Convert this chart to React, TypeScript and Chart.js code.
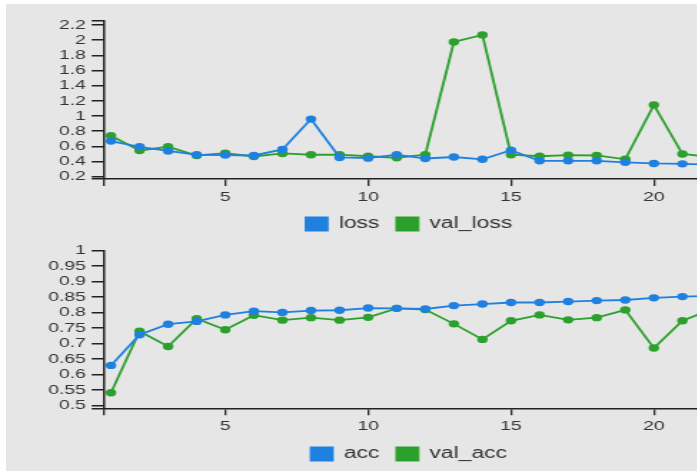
import React, { useEffect, useRef } from "react";
import { Chart, registerables } from "chart.js";

Chart.register(...registerables);

// ---- data ----
const epochs = [1, 2, 3, 4, 5, 6, 7, 8, 9, 10, 11, 12, 13, 14, 15, 16, 17, 18, 19, 20, 21, 22];
const loss = [0.67, 0.595, 0.54, 0.49, 0.485, 0.48, 0.56, 0.96, 0.454, 0.445, 0.49, 0.44, 0.46, 0.43, 0.55, 0.41, 0.41, 0.41, 0.39, 0.375, 0.37, 0.36];
const valLoss = [0.74, 0.546, 0.595, 0.48, 0.51, 0.467, 0.507, 0.49, 0.49, 0.47, 0.45, 0.49, 1.976, 2.07, 0.49, 0.47, 0.485, 0.48, 0.43, 1.147, 0.5, 0.46];
const acc = [0.63, 0.729, 0.763, 0.772, 0.793, 0.805, 0.801, 0.807, 0.808, 0.815, 0.814, 0.812, 0.823, 0.828, 0.833, 0.833, 0.836, 0.839, 0.841, 0.848, 0.852, 0.854];
const valAcc = [0.542, 0.74, 0.691, 0.781, 0.745, 0.792, 0.776, 0.784, 0.776, 0.785, 0.814, 0.81, 0.764, 0.714, 0.774, 0.793, 0.777, 0.784, 0.809, 0.686, 0.774, 0.81];
const xTickValues = [5, 10, 15, 20];
const lossTickValues = [0.2, 0.4, 0.6, 0.8, 1, 1.2, 1.4, 1.6, 1.8, 2, 2.2];
const accTickValues = [0.5, 0.55, 0.6, 0.65, 0.7, 0.75, 0.8, 0.85, 0.9, 0.95, 1];

// ---- style ----
const S = 1.43;
const CW = 503;
const BLUE = "#1f80e0";
const GREEN = "#2ca02c";
const AXIS = "#222";
const TEXT = "#333";
const FONT = "'Liberation Sans', Arial, sans-serif";
const X_MIN = 0.775;
const X_MAX = 22.09;

const fmt = (v: number) => String(parseFloat(v.toFixed(2)));

type PanelProps = {
  top: number;
  height: number;
  names: [string, string];
  a: number[];
  b: number[];
  yMin: number;
  yMax: number;
  yTicks: number[];
  padTop: number;
  xAxisH: number;
};

function Panel({ top, height, names, a, b, yMin, yMax, yTicks, padTop, xAxisH }: PanelProps) {
  const ref = useRef<HTMLCanvasElement>(null);
  useEffect(() => {
    const mk = (label: string, vals: number[], color: string) => ({
      label,
      data: epochs.map((e, i) => ({ x: e, y: vals[i] })),
      borderColor: color,
      backgroundColor: color,
      borderWidth: 1.8,
      pointRadius: 3.7,
      pointBorderWidth: 0,
      pointBackgroundColor: color,
      tension: 0,
    });
    const chart = new Chart(ref.current!, {
      type: "line",
      data: { datasets: [mk(names[0], a, BLUE), mk(names[1], b, GREEN)] },
      options: {
        animation: false,
        responsive: false,
        devicePixelRatio: 1,
        layout: { padding: { top: padTop, left: 0, right: 0, bottom: 0 } },
        plugins: {
          tooltip: { enabled: false },
          legend: {
            position: "bottom",
            fullSize: false,
            labels: {
              boxWidth: 15,
              boxHeight: 13,
              padding: 12,
              color: TEXT,
              font: { family: FONT, size: 16 },
            },
          },
        },
        scales: {
          x: {
            type: "linear",
            min: X_MIN,
            max: X_MAX,
            afterBuildTicks: (s: any) => {
              s.ticks = [X_MIN, ...xTickValues].map((v) => ({ value: v }));
            },
            afterFit: (s: any) => {
              s.height = xAxisH;
            },
            ticks: {
              autoSkip: false,
              maxRotation: 0,
              padding: 3,
              color: TEXT,
              font: { family: FONT, size: 13.5 },
              callback: (v: any, i: number) => (i === 0 ? "" : fmt(Number(v))),
            },
            grid: { drawOnChartArea: false, drawTicks: true, tickLength: 7, color: AXIS, lineWidth: 1.3 },
            border: { display: true, color: AXIS, width: 1.5 },
          },
          y: {
            type: "linear",
            min: yMin,
            max: yMax,
            afterBuildTicks: (s: any) => {
              const arr = [yMin, ...yTicks];
              if (yMax > yTicks[yTicks.length - 1] + 1e-6) arr.push(yMax);
              s.ticks = arr.map((v) => ({ value: v }));
            },
            afterFit: (s: any) => {
              s.width = 73.1;
            },
            ticks: {
              autoSkip: false,
              padding: 4,
              color: TEXT,
              font: { family: FONT, size: 13.5 },
              callback: (v: any) => {
                const n = Number(v);
                return yTicks.some((t) => Math.abs(t - n) < 1e-6) ? fmt(n) : "";
              },
            },
            grid: { drawOnChartArea: false, drawTicks: true, tickLength: 9, color: AXIS, lineWidth: 1.5 },
            border: { display: true, color: AXIS, width: 1.5 },
          },
        },
      },
    } as any);
    return () => chart.destroy();
  }, []);
  return (
    <div
      style={{
        position: "absolute",
        left: 0,
        top,
        transform: `scaleX(${S})`,
        transformOrigin: "0 0",
      }}
    >
      <canvas ref={ref} width={CW} height={height} style={{ display: "block", width: CW, height }} />
    </div>
  );
}

export default function App() {
  return (
    <div
      style={{
        position: "fixed",
        left: 0,
        top: 0,
        width: 697,
        height: 471,
        overflow: "hidden",
        background: "#fff",
      }}
    >
      <div style={{ position: "absolute", left: 6, top: 4, right: 0, bottom: 0, background: "#e6e6e6" }} />
      <Panel
        top={0}
        height={242}
        names={["loss", "val_loss"]}
        a={loss}
        b={valLoss}
        yMin={0.17}
        yMax={2.253}
        yTicks={lossTickValues}
        padTop={21}
        xAxisH={25}
      />
      <Panel
        top={230}
        height={242}
        names={["acc", "val_acc"]}
        a={acc}
        b={valAcc}
        yMin={0.4917}
        yMax={1}
        yTicks={accTickValues}
        padTop={20.7}
        xAxisH={25.7}
      />
    </div>
  );
}
